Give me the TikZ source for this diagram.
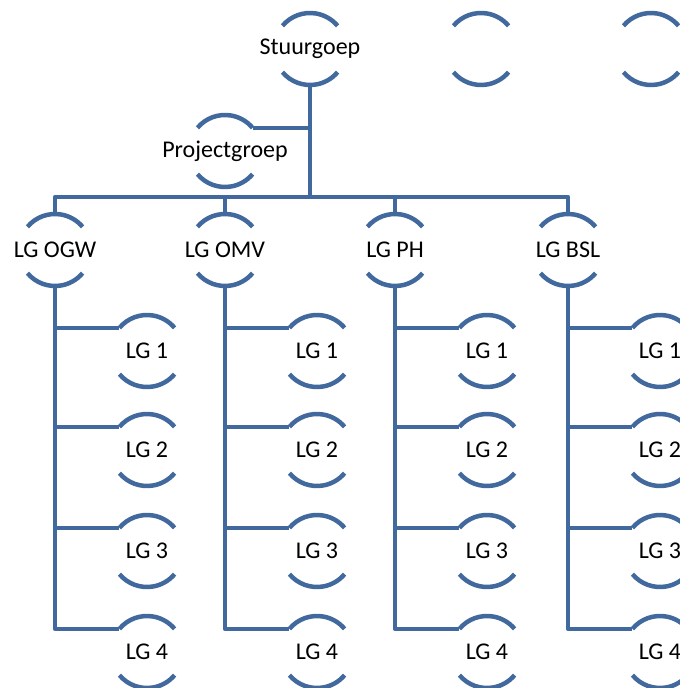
\documentclass[tikz,border=0pt]{standalone}
\usepackage{fontspec}
\setmainfont{Carlito}
\usetikzlibrary{shapes}

\begin{document}
\begin{tikzpicture}[line join=round,
  org/.style={circle,minimum size=72bp,inner sep=0pt,outer sep=0pt,
    label={[font=\fontsize{24bp}{28bp}\selectfont]center:#1}},
  ring/.style={line width=4.5bp,draw=linecol},
  link/.style={line width=4.5bp,draw=linecol}]
\definecolor{linecol}{rgb}{0.255,0.412,0.62}
\useasboundingbox (0bp,0bp) rectangle (680bp,688bp);

% Node: stuur
\node[org=Stuurgoep] (stuur) at (310bp,639bp) {};
\draw[ring] (stuur.140) arc (140:40:36bp) (stuur.220) arc (220:320:36bp);
% Node: leeg1
\node[org=] (leeg1) at (481bp,639bp) {};
\draw[ring] (leeg1.140) arc (140:40:36bp) (leeg1.220) arc (220:320:36bp);
% Node: leeg2
\node[org=] (leeg2) at (651bp,639bp) {};
\draw[ring] (leeg2.140) arc (140:40:36bp) (leeg2.220) arc (220:320:36bp);
% Node: proj
\node[org=Projectgroep] (proj) at (225bp,537bp) {};
\draw[ring] (proj.140) arc (140:40:36bp) (proj.220) arc (220:320:36bp);

% Node: ogw, omv, ph, bsl
\node[org=LG OGW] (ogw) at (55bp,438bp) {};
\draw[ring] (ogw.140) arc (140:40:36bp) (ogw.220) arc (220:320:36bp);
\node[org=LG OMV] (omv) at (225bp,438bp) {};
\draw[ring] (omv.140) arc (140:40:36bp) (omv.220) arc (220:320:36bp);
\node[org=LG PH] (ph) at (395bp,438bp) {};
\draw[ring] (ph.140) arc (140:40:36bp) (ph.220) arc (220:320:36bp);
\node[org=LG BSL] (bsl) at (568bp,438bp) {};
\draw[ring] (bsl.140) arc (140:40:36bp) (bsl.220) arc (220:320:36bp);

% Node: ogw children
\node[org=LG 1] (ogw1) at (147bp,337bp) {};
\draw[ring] (ogw1.140) arc (140:40:36bp) (ogw1.220) arc (220:320:36bp);
\node[org=LG 2] (ogw2) at (147bp,238bp) {};
\draw[ring] (ogw2.140) arc (140:40:36bp) (ogw2.220) arc (220:320:36bp);
\node[org=LG 3] (ogw3) at (147bp,137bp) {};
\draw[ring] (ogw3.140) arc (140:40:36bp) (ogw3.220) arc (220:320:36bp);
\node[org=LG 4] (ogw4) at (147bp,36bp) {};
\draw[ring] (ogw4.140) arc (140:40:36bp) (ogw4.220) arc (220:320:36bp);

% Node: omv children
\node[org=LG 1] (omv1) at (317bp,337bp) {};
\draw[ring] (omv1.140) arc (140:40:36bp) (omv1.220) arc (220:320:36bp);
\node[org=LG 2] (omv2) at (317bp,238bp) {};
\draw[ring] (omv2.140) arc (140:40:36bp) (omv2.220) arc (220:320:36bp);
\node[org=LG 3] (omv3) at (317bp,137bp) {};
\draw[ring] (omv3.140) arc (140:40:36bp) (omv3.220) arc (220:320:36bp);
\node[org=LG 4] (omv4) at (317bp,36bp) {};
\draw[ring] (omv4.140) arc (140:40:36bp) (omv4.220) arc (220:320:36bp);

% Node: ph children
\node[org=LG 1] (ph1) at (487bp,337bp) {};
\draw[ring] (ph1.140) arc (140:40:36bp) (ph1.220) arc (220:320:36bp);
\node[org=LG 2] (ph2) at (487bp,238bp) {};
\draw[ring] (ph2.140) arc (140:40:36bp) (ph2.220) arc (220:320:36bp);
\node[org=LG 3] (ph3) at (487bp,137bp) {};
\draw[ring] (ph3.140) arc (140:40:36bp) (ph3.220) arc (220:320:36bp);
\node[org=LG 4] (ph4) at (487bp,36bp) {};
\draw[ring] (ph4.140) arc (140:40:36bp) (ph4.220) arc (220:320:36bp);

% Node: bsl children
\node[org=LG 1] (bsl1) at (660bp,337bp) {};
\draw[ring] (bsl1.140) arc (140:40:36bp) (bsl1.220) arc (220:320:36bp);
\node[org=LG 2] (bsl2) at (660bp,238bp) {};
\draw[ring] (bsl2.140) arc (140:40:36bp) (bsl2.220) arc (220:320:36bp);
\node[org=LG 3] (bsl3) at (660bp,137bp) {};
\draw[ring] (bsl3.140) arc (140:40:36bp) (bsl3.220) arc (220:320:36bp);
\node[org=LG 4] (bsl4) at (660bp,36bp) {};
\draw[ring] (bsl4.140) arc (140:40:36bp) (bsl4.220) arc (220:320:36bp);

% Edge: stuur -> proj
\draw[link] (proj.40) -| (stuur.south);

% Edge: stuur -> bar -> ogw, omv, ph, bsl
\coordinate (bar) at (310bp,491bp);
\draw[link] (stuur.south) -- (bar);
\draw[link] (bar) -| (ogw.north);
\draw[link] (bar) -| (omv.north);
\draw[link] (bar) -| (ph.north);
\draw[link] (bar) -| (bsl.north);

% Edge: ogw -> ogw1..ogw4
\draw[link] (ogw.south) |- (ogw4.140);
\draw[link] (ogw.south) |- (ogw3.140);
\draw[link] (ogw.south) |- (ogw2.140);
\draw[link] (ogw.south) |- (ogw1.140);

% Edge: omv -> omv1..omv4
\draw[link] (omv.south) |- (omv4.140);
\draw[link] (omv.south) |- (omv3.140);
\draw[link] (omv.south) |- (omv2.140);
\draw[link] (omv.south) |- (omv1.140);

% Edge: ph -> ph1..ph4
\draw[link] (ph.south) |- (ph4.140);
\draw[link] (ph.south) |- (ph3.140);
\draw[link] (ph.south) |- (ph2.140);
\draw[link] (ph.south) |- (ph1.140);

% Edge: bsl -> bsl1..bsl4
\draw[link] (bsl.south) |- (bsl4.140);
\draw[link] (bsl.south) |- (bsl3.140);
\draw[link] (bsl.south) |- (bsl2.140);
\draw[link] (bsl.south) |- (bsl1.140);
%
\end{tikzpicture}
\end{document}
